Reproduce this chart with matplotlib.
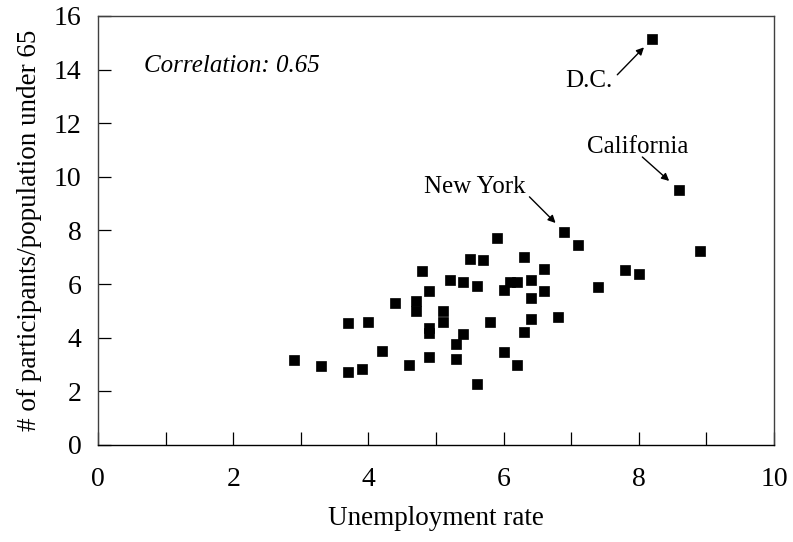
import matplotlib.pyplot as plt

# unemployment rate vs participants per population under 65, by state
unemp = [2.9, 3.3, 3.7, 3.7, 3.9, 4.0, 4.2, 4.4, 4.6, 4.7,
         4.7, 4.8, 4.9, 4.9, 4.9, 4.9, 5.1, 5.1, 5.2, 5.3,
         5.3, 5.4, 5.4, 5.5, 5.6, 5.6, 5.7, 5.8, 5.9, 6.0,
         6.0, 6.1, 6.2, 6.2, 6.3, 6.3, 6.4, 6.4, 6.4, 6.6,
         6.6, 6.8, 6.9, 7.1, 7.4, 7.8, 8.0, 8.2, 8.6, 8.9]
partic = [3.17, 2.95, 4.55, 2.72, 2.84, 4.59, 3.51, 5.30, 2.99, 5.37,
          5.00, 6.49, 5.75, 4.37, 4.18, 3.28, 5.00, 4.59, 6.16, 3.77,
          3.21, 6.08, 4.14, 6.94, 5.93, 2.28, 6.90, 4.59, 7.72, 5.78,
          3.47, 6.08, 6.08, 2.99, 7.01, 4.22, 6.16, 5.49, 4.70, 6.57,
          5.75, 4.78, 7.95, 7.46, 5.90, 6.53, 6.38, 15.15, 9.51, 7.24]

# name, index of point, arrow tail offset (px), head gap (pt), text offset (px), text align
callouts = [
    ("D.C.", 47, (-35, -36), 8.6, (-87, -48), "left"),
    ("New York", 42, (-35, 35), 9.0, (-39, 39), "right"),
    ("California", 48, (-37, 33), 9.8, (-42, 37), "center"),
]

plt.rcParams['font.family'] = ['Liberation Serif', 'DejaVu Serif']

fig = plt.figure(figsize=(7.93, 5.42), dpi=100)
ax = fig.add_axes([0.1236, 0.179, 0.8524, 0.7915])

ax.plot(unemp, partic, linestyle="none", marker="s", markersize=7,
        color="black", markeredgewidth=0.5)

for name, i, tail, gap, toff, ha in callouts:
    ax.annotate("", xy=(unemp[i], partic[i]), xytext=tail,
                textcoords="offset pixels",
                arrowprops=dict(arrowstyle="-|>", color="black", lw=1,
                                shrinkA=0, shrinkB=gap, mutation_scale=11))
    ax.annotate(name, xy=(unemp[i], partic[i]), xytext=toff,
                textcoords="offset pixels", ha=ha, va="baseline",
                fontsize=18)

ax.text(0.068, 0.87, "Correlation: 0.65", transform=ax.transAxes,
        fontsize=18, style="italic")

ax.set_xlim(0, 10)
ax.set_ylim(0, 16)
ax.set_xticks(range(0, 11))
ax.set_xticklabels([str(v) if v % 2 == 0 else "" for v in range(0, 11)])
ax.set_yticks(range(0, 17, 2))
ax.tick_params(direction="in", length=9.4, width=0.9, labelsize=20,
               colors="black")
ax.tick_params(axis="x", pad=16)
ax.tick_params(axis="y", pad=12)
for s in ax.spines.values():
    s.set_color("#404040")
    s.set_linewidth(1)
ax.spines["bottom"].set_color("black")

ax.set_xlabel("Unemployment rate", fontsize=19.5, labelpad=10)
ax.set_ylabel("# of participants/population under 65", fontsize=19.5,
              labelpad=8)

fig.savefig("out.png", dpi=100)
